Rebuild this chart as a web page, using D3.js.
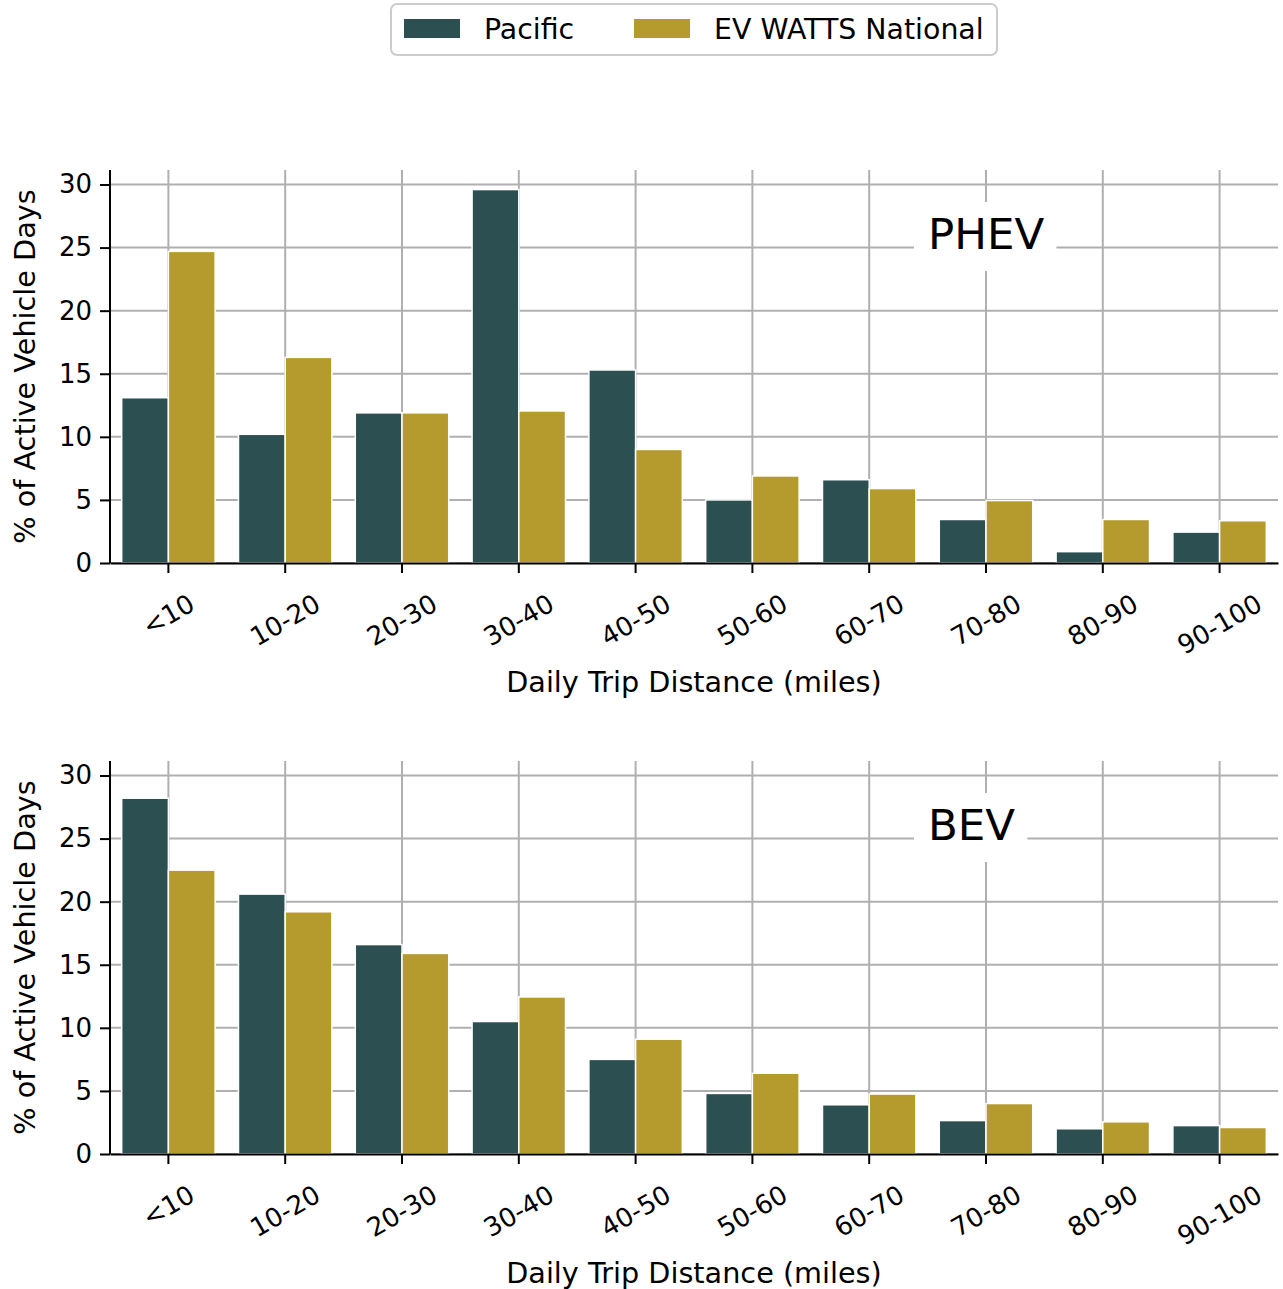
<!DOCTYPE html>
<html><head><meta charset="utf-8">
<script src="https://cdn.jsdelivr.net/npm/d3@7"></script>
<style>body{margin:0;background:#fff} text{font-family:"DejaVu Sans",sans-serif;fill:#000}</style>
</head><body><svg id="c" width="1283" height="1289"></svg>
<script>
const categories = ["<10","10-20","20-30","30-40","40-50","50-60","60-70","70-80","80-90","90-100"];
const seriesNames = ["Pacific","EV WATTS National"];
const phevPacific  = [13.1, 10.2, 11.9, 29.6, 15.3, 5.0, 6.6, 3.45, 0.9, 2.45];
const phevNational = [24.7, 16.3, 11.9, 12.05, 9.0, 6.9, 5.9, 4.95, 3.45, 3.35];
const bevPacific   = [28.2, 20.6, 16.6, 10.5, 7.5, 4.8, 3.9, 2.65, 2.0, 2.25];
const bevNational  = [22.5, 19.2, 15.9, 12.45, 9.1, 6.4, 4.75, 4.0, 2.55, 2.1];
const yTicks = [0, 5, 10, 15, 20, 25, 30];
const colors = ["#2c5052", "#b59a2e"];

const svg = d3.select("#c");
const left = 110, right = 1278;

function panel(top, bottom, pac, nat, title) {
  const g = svg.append("g");
  const x = d3.scaleBand().domain(categories).range([left, right]).paddingInner(0).paddingOuter(0);
  const y = d3.scaleLinear().domain([0, 31.15]).range([bottom, top]);
  const grid = g.append("g").attr("stroke", "#b0b0b0").attr("stroke-width", 2);
  grid.selectAll("line.h").data(yTicks).join("line")
    .attr("x1", left).attr("x2", right).attr("y1", d => y(d)).attr("y2", d => y(d));
  grid.selectAll("line.v").data(categories).join("line")
    .attr("x1", d => x(d) + x.bandwidth()/2).attr("x2", d => x(d) + x.bandwidth()/2)
    .attr("y1", top).attr("y2", bottom);

  // title with white box (drawn over grid, under bars)
  const tg = g.append("g");
  const base = top + 79;
  const tt = tg.append("text").attr("x", 928).attr("y", base).attr("font-size", 43.5).text(title);
  const bb = tt.node().getBBox();
  tg.insert("rect", "text").attr("x", bb.x - 14).attr("y", base - 47).attr("width", bb.width + 26).attr("height", 69).attr("fill", "#fff");

  const xs = d3.scaleBand().domain([0, 1]).range([0, x.bandwidth() * 0.8]);
  const rows = categories.map((c, i) => ({c, vals: [pac[i], nat[i]]}));
  const bars = g.append("g");
  rows.forEach(r => {
    r.vals.forEach((v, k) => {
      bars.append("rect")
        .attr("x", x(r.c) + x.bandwidth() * 0.1 + xs(k))
        .attr("width", xs.bandwidth())
        .attr("y", y(v)).attr("height", y(0) - y(v))
        .attr("fill", colors[k]).attr("stroke", "#fff").attr("stroke-width", 1.5);
    });
  });

  const ya = g.append("g").attr("transform", `translate(${left},0)`)
    .call(d3.axisLeft(y).tickValues(yTicks).tickSize(10).tickSizeOuter(0).tickPadding(8));
  ya.select(".domain").attr("stroke", "#000").attr("stroke-width", 2)
    .attr("d", `M0,${bottom}V${top}`);
  ya.selectAll(".tick line").attr("stroke", "#000").attr("stroke-width", 2);
  ya.selectAll(".tick text").attr("font-size", 26).attr("font-family", "DejaVu Sans").attr("fill", "#000");

  const xa = g.append("g").attr("transform", `translate(0,${bottom})`)
    .call(d3.axisBottom(x).tickSize(10).tickSizeOuter(0));
  xa.select(".domain").attr("stroke", "#000").attr("stroke-width", 2);
  xa.selectAll(".tick line").attr("stroke", "#000").attr("stroke-width", 2);
  xa.selectAll(".tick text").attr("font-size", 26).attr("font-family", "DejaVu Sans").attr("fill", "#000")
    .attr("dy", null).attr("text-anchor", "middle").attr("dominant-baseline", "central")
    .each(function() {
      const w = this.getComputedTextLength();
      const h = 26;
      const bh = w * 0.5 + h * 0.866;
      d3.select(this).attr("y", null).attr("transform", `translate(0,${27 + bh/2}) rotate(-30)`);
    });

  g.append("text").attr("x", (left + right) / 2).attr("y", bottom + 129).attr("text-anchor", "middle")
    .attr("font-size", 28.7).text("Daily Trip Distance (miles)");
  g.append("text").attr("transform", `translate(35,${(top + bottom) / 2}) rotate(-90)`).attr("text-anchor", "middle")
    .attr("font-size", 28.7).text("% of Active Vehicle Days");
}

panel(170, 563, phevPacific, phevNational, "PHEV");
panel(761, 1154, bevPacific, bevNational, "BEV");

// legend
const lg = svg.append("g");
lg.append("rect").attr("x", 391).attr("y", 4).attr("width", 606).attr("height", 51).attr("rx", 6)
  .attr("fill", "#fff").attr("stroke", "#cccccc").attr("stroke-width", 2);
const lx = [404, 634];
seriesNames.forEach((n, i) => {
  lg.append("rect").attr("x", lx[i]).attr("y", 19).attr("width", 56).attr("height", 19).attr("fill", colors[i]);
  lg.append("text").attr("x", lx[i] + 80).attr("y", 29).attr("dominant-baseline", "central")
    .attr("font-size", 28.4).text(n);
});
</script></body></html>
